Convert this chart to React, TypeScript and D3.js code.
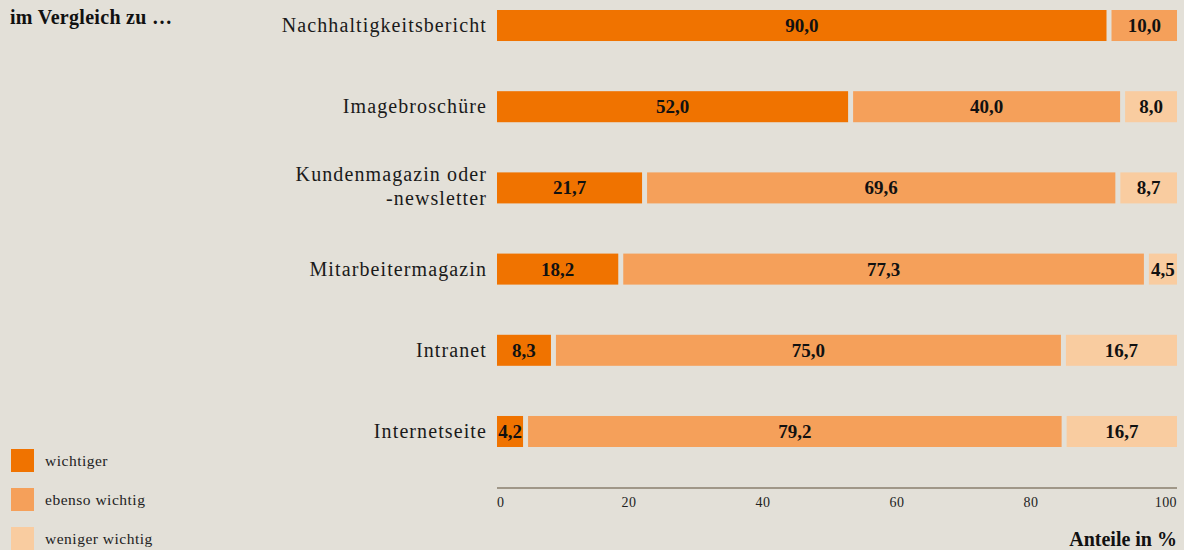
import { useEffect, useRef } from "react";
import * as d3 from "d3";

const categories = [
  ["Nachhaltigkeitsbericht"],
  ["Imagebroschüre"],
  ["Kundenmagazin oder", "-newsletter"],
  ["Mitarbeitermagazin"],
  ["Intranet"],
  ["Internetseite"],
];
const wichtiger = [90.0, 52.0, 21.7, 18.2, 8.3, 4.2];
const ebenso = [10.0, 40.0, 69.6, 77.3, 75.0, 79.2];
const weniger = [0, 8.0, 8.7, 4.5, 16.7, 16.7];
const seriesNames = ["wichtiger", "ebenso wichtig", "weniger wichtig"];
const colors = ["#f07300", "#f5a05a", "#f9cca0"];
const ticks = [0, 20, 40, 60, 80, 100];

const W = 1184;
const H = 550;
const FONT = "'Liberation Serif', 'DejaVu Serif', serif";

function App() {
  const svgRef = useRef<SVGSVGElement | null>(null);

  useEffect(() => {
    const svg = d3.select(svgRef.current!);
    svg.selectAll("*").remove();
    svg.style("font-family", FONT);

    svg.append("rect").attr("width", W).attr("height", H).attr("fill", "#e3e0d8");

    const x = d3.scaleLinear().domain([0, 100]).range([497, 1177]);
    const tickX = d3.scaleLinear().domain([0, 100]).range([495, 1165]);
    const y = d3.scaleBand<number>().domain(d3.range(categories.length)).range([10, 447]).paddingInner(0.618).paddingOuter(0);

    const series = [wichtiger, ebenso, weniger];
    const gap = 2.5;

    categories.forEach((lines, i) => {
      const cy = y(i)! + y.bandwidth() / 2;
      const t = svg.append("text")
        .attr("x", 487)
        .attr("y", lines.length > 1 ? cy - 6.5 : cy + 6.5)
        .attr("text-anchor", "end")
        .attr("font-size", 20)
        .attr("letter-spacing", 1.1)
        .attr("fill", "#1a1a1a");
      lines.forEach((l, j) => t.append("tspan").attr("x", 487).attr("dy", j === 0 ? 0 : 24).text(l));

      let acc = 0;
      series.forEach((s, k) => {
        const v = s[i];
        if (v <= 0) return;
        const start = acc;
        const end = acc + v;
        acc = end;
        const x0 = start === 0 ? x(start) : x(start) + gap;
        const x1 = end >= 99.99 ? x(100) : x(end) - gap;
        svg.append("rect")
          .attr("x", x0).attr("y", y(i)!)
          .attr("width", x1 - x0).attr("height", y.bandwidth())
          .attr("fill", colors[k]);
        svg.append("text")
          .attr("x", (x0 + x1) / 2)
          .attr("y", cy + 6.5)
          .attr("text-anchor", "middle")
          .attr("font-size", 19)
          .attr("font-weight", "bold")
          .attr("fill", "#111")
          .text(d3.format(".1f")(v).replace(".", ","));
      });
    });

    // axis
    svg.append("line")
      .attr("x1", x(0)).attr("x2", x(100))
      .attr("y1", 488).attr("y2", 488)
      .attr("stroke", "#8a7f6e").attr("stroke-width", 1.5);
    ticks.forEach((t) => {
      svg.append("text")
        .attr("x", t === 0 ? x(0) : t === 100 ? x(100) : tickX(t))
        .attr("y", 507)
        .attr("text-anchor", t === 0 ? "start" : t === 100 ? "end" : "middle")
        .attr("font-size", 14)
        .attr("letter-spacing", 0.4)
        .attr("fill", "#222")
        .text(t);
    });
    svg.append("text")
      .attr("x", 1177).attr("y", 546)
      .attr("text-anchor", "end")
      .attr("font-size", 20).attr("font-weight", "bold")
      .attr("fill", "#111")
      .text("Anteile in %");

    svg.append("text")
      .attr("x", 10).attr("y", 24)
      .attr("font-size", 20).attr("font-weight", "bold")
      .attr("letter-spacing", 0.3)
      .attr("fill", "#111")
      .text("im Vergleich zu …");

    seriesNames.forEach((n, k) => {
      const yy = 449 + k * 39;
      svg.append("rect").attr("x", 11).attr("y", yy).attr("width", 23).attr("height", 23).attr("fill", colors[k]);
      svg.append("text")
        .attr("x", 45).attr("y", yy + 17)
        .attr("font-size", 15.5)
        .attr("letter-spacing", 0.5)
        .attr("fill", "#222")
        .text(n);
    });
  }, []);

  return (
    <svg ref={svgRef} width={W} height={H} style={{ position: "absolute", left: 0, top: 0, display: "block" }} />
  );
}

export default App;
